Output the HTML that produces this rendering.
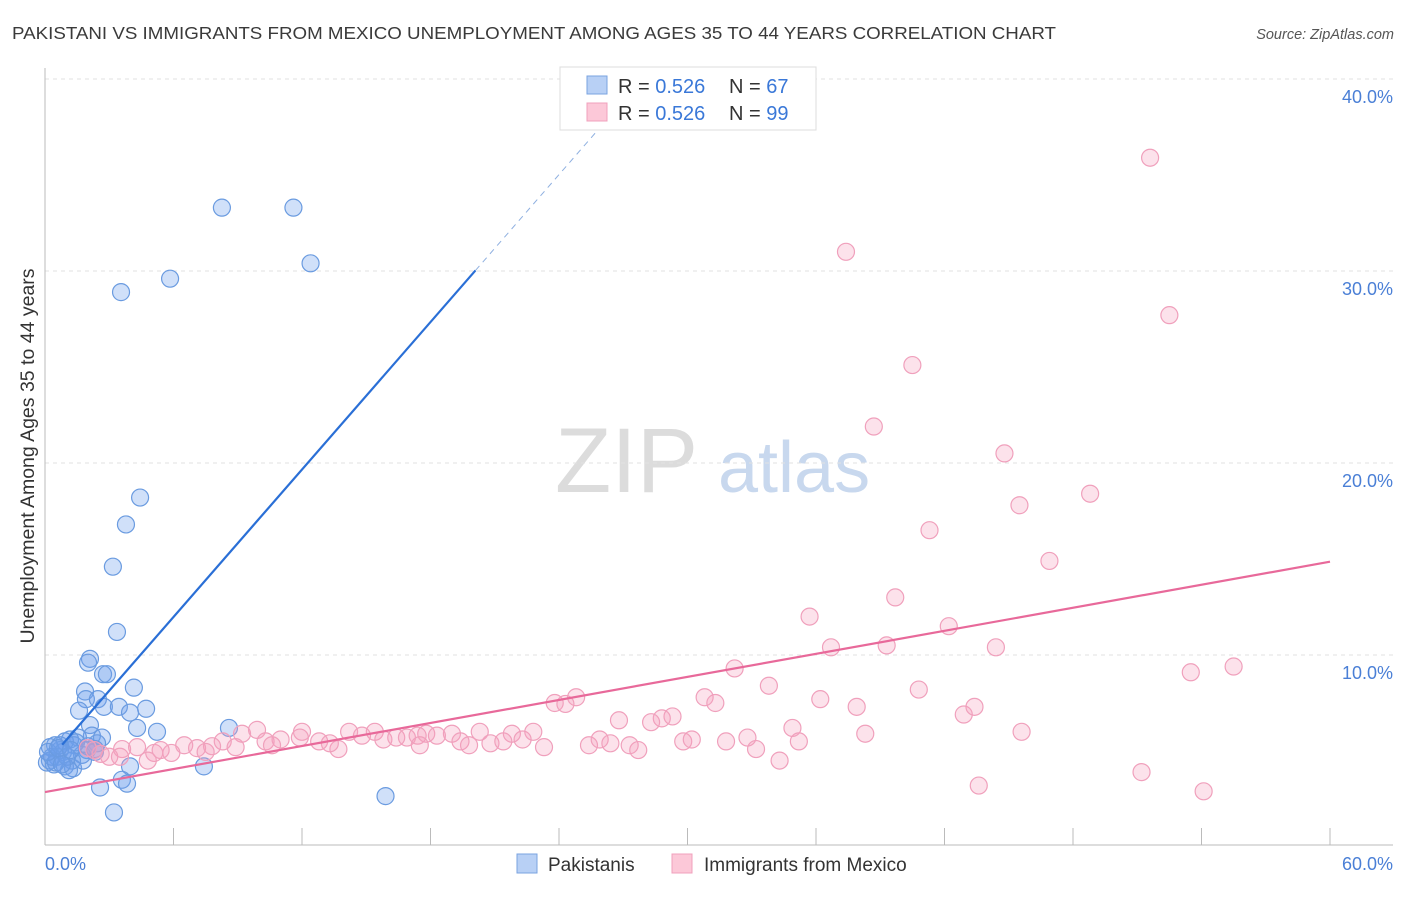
<!DOCTYPE html>
<html><head><meta charset="utf-8"><style>
body{margin:0;background:#fff;font-family:"Liberation Sans",sans-serif}
svg text{font-family:"Liberation Sans",sans-serif}
</style></head><body>
<svg id="chart" width="1406" height="892" xmlns="http://www.w3.org/2000/svg">
<text x="12" y="39" font-size="17.5" fill="#3a3a3a" textLength="1044" lengthAdjust="spacingAndGlyphs">PAKISTANI VS IMMIGRANTS FROM MEXICO UNEMPLOYMENT AMONG AGES 35 TO 44 YEARS CORRELATION CHART</text>
<text x="1394" y="39" font-size="14.5" fill="#555" text-anchor="end" font-style="italic">Source: ZipAtlas.com</text>
<g>
<text x="555" y="492" font-size="92" font-family="Liberation Serif" fill="#dcdcdc">ZIP</text>
<text x="718" y="492" font-size="72" fill="#c8d8ee">atlas</text>
</g>
<g id="grid"></g><g id="axes"></g><g id="pts"></g><g id="lines"></g>
<text transform="translate(34,456) rotate(-90)" text-anchor="middle" font-size="19.5" fill="#333">Unemployment Among Ages 35 to 44 years</text>
<g>
<rect x="560" y="67" width="256" height="63" fill="#fff" stroke="#ddd"/>
<rect x="587" y="76" width="20" height="18" fill="#b8d0f5" stroke="#7aa3e0"/>
<rect x="587" y="103" width="20" height="18" fill="#fcc8d8" stroke="#f0a0bc"/>
<text x="618" y="93" font-size="20" fill="#333">R = <tspan fill="#3a78d8">0.526</tspan></text>
<text x="729" y="93" font-size="20" fill="#333">N = <tspan fill="#3a78d8">67</tspan></text>
<text x="618" y="120" font-size="20" fill="#333">R = <tspan fill="#3a78d8">0.526</tspan></text>
<text x="729" y="120" font-size="20" fill="#333">N = <tspan fill="#3a78d8">99</tspan></text>
</g>
<g>
<rect x="517" y="854" width="20" height="19" fill="#b8d0f5" stroke="#7aa3e0"/>
<text x="548" y="871" font-size="19" fill="#333">Pakistanis</text>
<rect x="672" y="854" width="20" height="19" fill="#fcc8d8" stroke="#f0a0bc"/>
<text x="704" y="871" font-size="19" fill="#333">Immigrants from Mexico</text>
</g>
</svg>
<script>
const yTicks=[10,20,30,40];
const yTickLabels=["10.0%","20.0%","30.0%","40.0%"];
const blueX=[8.26,11.6,12.4,5.84,3.55,4.44,3.78,3.17,3.36,2.10,2.01,2.71,2.89,4.15,1.87,1.91,2.47,2.75,3.45,4.72,1.59,3.97,2.10,4.30,5.23,8.59,2.19,1.54,2.66,1.17,0.93,2.43,0.47,1.35,0.23,0.70,1.96,0.84,2.33,1.73,0.56,0.23,1.26,0.09,0.42,0.93,1.31,7.42,3.97,1.12,3.59,3.83,2.57,15.9,3.22,0.33,0.51,0.14,0.7,1.45,2.0,2.33,1.03,1.77,0.79,0.61,1.21];
const blueY=[33.3,33.3,30.4,29.6,28.9,18.2,16.8,14.6,11.2,9.8,9.6,9.0,9.0,8.3,8.1,7.7,7.7,7.3,7.3,7.2,7.1,7.0,6.35,6.2,6.0,6.2,5.8,5.7,5.7,5.6,5.5,5.4,5.3,5.3,5.2,5.05,5.05,4.95,4.95,4.8,4.7,4.5,4.5,4.4,4.3,4.2,4.1,4.2,4.2,4.0,3.5,3.3,3.1,2.65,1.8,4.7,4.4,4.95,5.3,5.45,5.25,5.1,4.7,4.5,4.3,5.15,5.05];
const pinkX=[51.6,37.4,52.5,40.5,38.7,44.8,48.8,45.5,41.3,46.9,39.7,35.7,42.2,36.7,39.3,44.4,55.5,53.5,32.2,33.8,24.8,40.8,30.8,23.8,24.3,31.3,36.2,37.9,42.9,43.4,29.3,28.8,26.8,28.3,34.9,45.6,38.3,22.8,21.8,20.3,19.0,17.8,15.4,14.2,12.0,9.9,9.2,8.3,6.5,4.3,3.6,2.3,3.0,5.1,5.9,7.1,7.8,8.9,10.3,11.0,11.9,12.8,13.7,14.8,15.8,16.4,16.9,17.4,18.3,19.4,20.8,21.4,22.3,23.3,25.4,25.9,26.4,27.3,27.7,29.8,30.2,31.8,32.8,33.2,35.2,34.3,43.6,51.2,54.1,3.5,2.6,4.8,2.0,5.4,7.5,10.6,13.3,17.5,19.8];
const pinkY=[35.9,31.0,27.7,25.1,21.9,20.5,18.4,17.8,16.5,14.9,13.0,12.0,11.5,10.4,10.5,10.4,9.4,9.1,9.3,8.4,7.8,8.2,7.8,7.5,7.45,7.5,7.7,7.3,6.9,7.3,6.8,6.7,6.6,6.5,6.2,6.0,5.9,6.0,5.9,6.0,5.9,5.9,6.0,6.0,6.0,6.1,5.9,5.5,5.3,5.2,5.1,5.05,4.7,4.9,4.9,5.15,5.25,5.2,5.5,5.6,5.7,5.5,5.1,5.8,5.6,5.7,5.7,5.8,5.8,5.5,5.4,5.5,5.6,5.2,5.3,5.6,5.4,5.3,5.05,5.5,5.6,5.5,5.7,5.1,5.5,4.5,3.2,3.9,2.9,4.7,4.85,4.5,5.15,5.05,4.95,5.3,5.4,5.3,5.3];
const blueFit=[4.3,1.28], pinkFit=[2.86,0.2];
const NS="http://www.w3.org/2000/svg";
const xs=v=>45+v*(1285/60), ys=v=>847-v*19.2;
function mk(t,a,p){const e=document.createElementNS(NS,t);for(const k in a)e.setAttribute(k,a[k]);document.getElementById(p).appendChild(e);return e;}
yTicks.forEach((t,i)=>{
 const g=mk('line',{x1:45,x2:1393,y1:ys(t),y2:ys(t),stroke:'#e2e2e2','stroke-dasharray':'4,4'},'grid');
 
 
 const l=mk('text',{x:1393,y:ys(t)+24,'text-anchor':'end','font-size':18,fill:'#4a7fd6'},'grid');l.textContent=yTickLabels[i];
 
 
});
mk('line',{x1:45,x2:45,y1:68,y2:845,stroke:'#bbb'},'axes');
mk('line',{x1:45,x2:1393,y1:845,y2:845,stroke:'#bbb'},'axes');
for(let i=1;i<=10;i++){const t=mk('line',{x1:xs(i*6),x2:xs(i*6),y1:828,y2:845,stroke:'#bbb'},'axes');
 
 }
const x0=mk('text',{x:45,y:870,'font-size':18,fill:'#4a7fd6'},'axes');x0.textContent='0.0%';
const x1=mk('text',{x:1393,y:870,'font-size':18,fill:'#4a7fd6','text-anchor':'end'},'axes');x1.textContent='60.0%';
blueX.forEach((v,i)=>{const c=mk('circle',{cx:xs(v),cy:ys(blueY[i]),r:8.5,fill:'rgba(110,160,235,0.32)',stroke:'#6a9be0','stroke-width':1.2},'pts');
 
 });
pinkX.forEach((v,i)=>{const c=mk('circle',{cx:xs(v),cy:ys(pinkY[i]),r:8.5,fill:'rgba(245,160,190,0.3)',stroke:'#f0a0bc','stroke-width':1.2},'pts');
 
 });
const bf=x=>blueFit[0]+blueFit[1]*x, pf=x=>pinkFit[0]+pinkFit[1]*x;
const b1=mk('line',{x1:xs(0.8),y1:ys(bf(0.8)),x2:xs(20.1),y2:ys(bf(20.1)),stroke:'#2a6fd6','stroke-width':2.2},'lines');


const b2=mk('line',{x1:xs(20.1),y1:ys(bf(20.1)),x2:xs(25.7),y2:ys(bf(25.7)),stroke:'#8fb0e0','stroke-width':1,'stroke-dasharray':'6,5'},'lines');


const p1=mk('line',{x1:xs(0),y1:ys(pf(0)),x2:xs(60),y2:ys(pf(60)),stroke:'#e8699a','stroke-width':2.2},'lines');


</script>
</body></html>
